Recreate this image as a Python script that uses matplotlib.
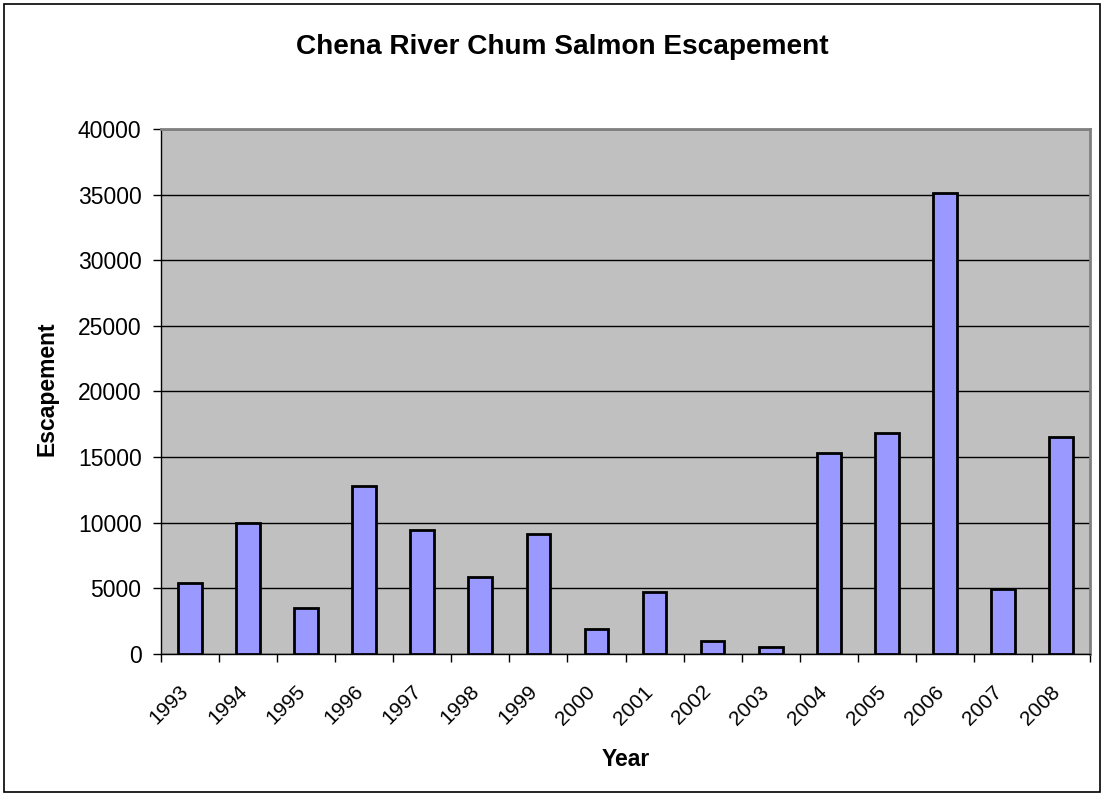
import numpy as np
import matplotlib.pyplot as plt
import matplotlib.transforms as mtransforms
from matplotlib.patches import Rectangle

plt.rcParams['font.family'] = ['Liberation Sans', 'DejaVu Sans']

# Data
years = ['1993', '1994', '1995', '1996', '1997', '1998', '1999', '2000',
         '2001', '2002', '2003', '2004', '2005', '2006', '2007', '2008']
escapement = [5440, 9950, 3500, 12770, 9420, 5890, 9120, 1880,
              4760, 1000, 530, 15340, 16870, 35100, 4980, 16510]

fig = plt.figure(figsize=(11.04, 7.96), dpi=100)
ax = fig.add_axes([161 / 1104, 1 - 654 / 796, (1090 - 161) / 1104, (654 - 129) / 796])

x = np.arange(len(years))
ax.bar(x, escapement, width=0.41, color='#9999FF', edgecolor='black',
       linewidth=2, zorder=3)

ax.set_facecolor('#C0C0C0')
ax.set_xlim(-0.5, len(years) - 0.5)
ax.set_ylim(0, 40000)
ax.set_yticks(np.arange(0, 40001, 5000))
ax.yaxis.grid(True, color='black', linewidth=1, zorder=1)

# ticks at category boundaries, labels at centres
ax.set_xticks(np.arange(-0.5, len(years) + 0.5, 1))
ax.set_xticklabels([])
ax.set_xticks(x, minor=True)
ax.set_xticklabels(years, minor=True, rotation=45, ha='right', va='center',
                   rotation_mode='anchor', fontsize=15)
ax.tick_params(axis='x', which='minor', length=0, pad=25)
ax.tick_params(axis='x', which='major', length=5.5, width=1, color='black')
ax.tick_params(axis='y', length=6, width=1, labelsize=16.5, pad=8)
offset = mtransforms.ScaledTranslation(-3 / 72, 0, fig.dpi_scale_trans)
for lab in ax.get_xticklabels(minor=True):
    lab.set_transform(lab.get_transform() + offset)

for side in ['top', 'right']:
    ax.spines[side].set_color('#808080')
    ax.spines[side].set_linewidth(2)
for side in ['left', 'bottom']:
    ax.spines[side].set_color('black')
    ax.spines[side].set_linewidth(1)

fig.text(626 / 1104, 1 - 759 / 796, 'Year', ha='center', va='center',
         fontsize=16.5, fontweight='bold')
fig.text(47 / 1104, 1 - 389 / 796, 'Escapement', ha='center', va='center',
         rotation=90, fontsize=16.5, fontweight='bold')
fig.text(562 / 1104, 1 - 47.5 / 796, 'Chena River Chum Salmon Escapement',
         ha='center', va='center', fontsize=20.2, fontweight='bold')

fig.patches.append(Rectangle((4 / 1104, 4 / 796), 1096 / 1104, 788 / 796,
                             transform=fig.transFigure, fill=False,
                             edgecolor='black', linewidth=1.2))

fig.savefig('out.png', dpi=100)
